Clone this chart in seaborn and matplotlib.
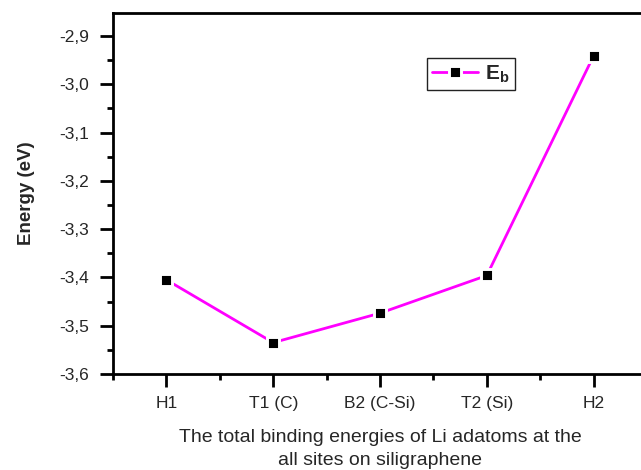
import numpy as np
import pandas as pd
import seaborn as sns
import matplotlib
matplotlib.use("Agg")
import matplotlib.pyplot as plt
from matplotlib.ticker import MultipleLocator, FuncFormatter, FixedLocator

# Adsorption sites and binding energies (eV)
sites = ["H1", "T1 (C)", "B2 (C-Si)", "T2 (Si)", "H2"]
energy = [-3.405, -3.535, -3.474, -3.396, -2.941]

sns.set_theme(style="white")
plt.rcParams["font.family"] = ["Liberation Sans", "DejaVu Sans"]
plt.rcParams["mathtext.fontset"] = "custom"
plt.rcParams["mathtext.bf"] = "Liberation Sans:bold"
plt.rcParams["mathtext.rm"] = "Liberation Sans"

df = pd.DataFrame({"pos": np.arange(len(sites)), "E": energy})

fig = plt.figure(figsize=(6.41, 4.70), dpi=100)
ax = fig.add_axes([113 / 641, 1 - 374 / 470, (647 - 113) / 641, (374 - 13.3) / 470])

# magenta line with black square markers; white marker edge leaves a small gap
sns.lineplot(data=df, x="pos", y="E", ax=ax, color="#ff00ff", linewidth=2.0,
             marker="s", markersize=8.2, markerfacecolor="black",
             markeredgecolor="white", markeredgewidth=2.1,
             label=r"$\mathbf{E_b}$")

ax.set_xlim(-0.5, 4.5)
ax.set_ylim(-3.6, -2.853)

ax.xaxis.set_major_locator(FixedLocator(df["pos"]))
ax.set_xticklabels(sites)
ax.xaxis.set_minor_locator(MultipleLocator(0.5))
ax.yaxis.set_major_locator(MultipleLocator(0.1))
ax.yaxis.set_minor_locator(MultipleLocator(0.05))
ax.yaxis.set_major_formatter(FuncFormatter(lambda v, p: f"{v:.1f}".replace(".", ",")))

ax.tick_params(axis="both", which="major", direction="out", length=9.5, width=2.0,
               labelsize=12.5, color="black", bottom=True, left=True)
ax.tick_params(axis="both", which="minor", direction="out", length=4.5, width=2.0,
               color="black", bottom=True, left=True)
ax.tick_params(axis="x", which="major", pad=6.5)
ax.tick_params(axis="y", which="major", pad=8)

for s in ax.spines.values():
    s.set_linewidth(2.0)
    s.set_color("black")

ax.set_ylabel("Energy (eV)", fontsize=13.5, fontweight="bold", labelpad=17)
ax.set_xlabel("The total binding energies of Li adatoms at the\nall sites on siligraphene",
              fontsize=14, labelpad=13, linespacing=1.45)

leg = ax.legend(loc="upper left", bbox_to_anchor=(0.588, 0.876), fontsize=15,
                frameon=True, fancybox=False, edgecolor="#222222", framealpha=1,
                handlelength=2.2, handletextpad=0.35, borderpad=0.25,
                borderaxespad=0)
leg.get_frame().set_linewidth(1.0)

fig.savefig("out.png", dpi=100)
